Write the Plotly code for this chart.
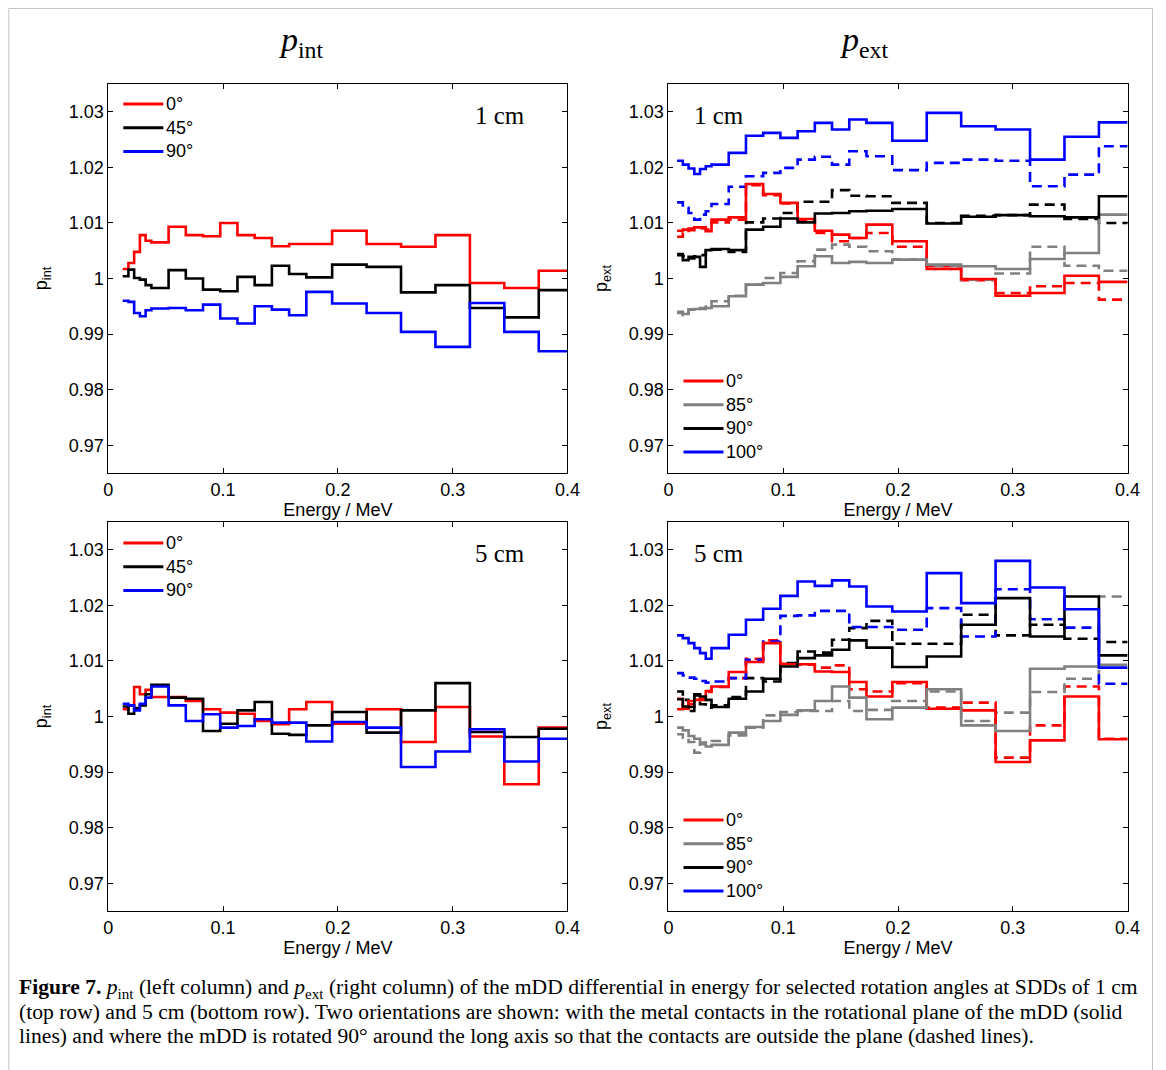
import plotly.graph_objects as go

# Energy bin edges (MeV); the p_int curves start one bin later than p_ext
EDGES_EXT = [0.0075, 0.0125, 0.0175, 0.0225, 0.0275, 0.0325, 0.0375, 0.0525, 0.0675,
             0.0825, 0.0975, 0.1125, 0.1275, 0.1425, 0.1575, 0.1725, 0.195, 0.225,
             0.255, 0.285, 0.315, 0.345, 0.375, 0.4]
EDGES_INT = EDGES_EXT[1:]

# p_int, SDD 1 cm
INT1_0 = [1.0017, 1.0028, 1.0048, 1.0078, 1.0068, 1.0065, 1.0093, 1.0078, 1.0076, 1.0100, 1.0078,
          1.0073, 1.0058, 1.0062, 1.0062, 1.0086, 1.0062, 1.0057, 1.0078, 0.9992, 0.9983, 1.0014]
INT1_45 = [1.0004, 1.0016, 1.0001, 0.9998, 0.9988, 0.9983, 1.0015, 1.0000, 0.9980, 0.9977, 1.0003,
           0.9988, 1.0023, 1.0008, 1.0002, 1.0025, 1.0021, 0.9975, 0.9988, 0.9947, 0.9930, 0.9979]
INT1_90 = [0.9960, 0.9958, 0.9938, 0.9932, 0.9943, 0.9946, 0.9947, 0.9943, 0.9953, 0.9928, 0.9919,
           0.9950, 0.9944, 0.9934, 0.9976, 0.9955, 0.9938, 0.9904, 0.9877, 0.9956, 0.9904, 0.9869]

# p_int, SDD 5 cm
INT5_0 = [1.0013, 1.0020, 1.0053, 1.0040, 1.0048, 1.0035, 1.0035, 1.0028, 1.0013, 1.0007, 1.0005,
          0.9992, 0.9986, 1.0013, 1.0026, 0.9987, 1.0013, 0.9954, 1.0017, 0.9964, 0.9878, 0.9980]
INT5_45 = [1.0018, 1.0005, 1.0015, 1.0020, 1.0040, 1.0057, 1.0034, 1.0032, 0.9974, 0.9987, 1.0011,
           1.0026, 0.9969, 0.9967, 0.9984, 1.0008, 0.9971, 1.0011, 1.0060, 0.9972, 0.9963, 0.9978]
INT5_90 = [1.0023, 1.0020, 1.0011, 1.0023, 1.0034, 1.0054, 1.0020, 0.9992, 1.0004, 0.9980, 0.9983,
           0.9995, 0.9989, 0.9989, 0.9955, 0.9990, 0.9980, 0.9909, 0.9937, 0.9977, 0.9919, 0.9960]

# p_ext, SDD 1 cm (solid: contacts in plane, dashed: rotated 90 deg about long axis)
EXT1_0 = [1.0086, 1.0088, 1.0090, 1.0092, 1.0092, 1.0085, 1.0106, 1.0110, 1.0170, 1.0152, 1.0136, 1.0107,
          1.0086, 1.0079, 1.0073, 1.0097, 1.0067, 1.0017, 0.9999, 0.9969, 0.9974, 1.0005, 0.9994]
EXT1_0_D = [1.0075, 1.0082, 1.0087, 1.0090, 1.0090, 1.0088, 1.0101, 1.0106, 1.0168, 1.0150, 1.0135, 1.0106,
            1.0082, 1.0067, 1.0073, 1.0082, 1.0057, 1.0022, 0.9997, 0.9974, 0.9986, 0.9992, 0.9962]
EXT1_85 = [0.9938, 0.9936, 0.9944, 0.9945, 0.9947, 0.9947, 0.9950, 0.9968, 0.9989, 0.9992, 1.0003, 1.0022,
           1.0040, 1.0028, 1.0030, 1.0028, 1.0034, 1.0025, 1.0022, 1.0017, 1.0035, 1.0046, 1.0115]
EXT1_85_D = [0.9940, 0.9934, 0.9944, 0.9944, 0.9945, 0.9952, 0.9959, 0.9969, 0.9989, 1.0001, 1.0010, 1.0031,
             1.0052, 1.0061, 1.0057, 1.0049, 1.0034, 1.0022, 0.9998, 1.0009, 1.0057, 1.0023, 1.0014]
EXT1_90 = [1.0042, 1.0033, 1.0039, 1.0039, 1.0021, 1.0051, 1.0053, 1.0051, 1.0088, 1.0093, 1.0108, 1.0101,
           1.0117, 1.0118, 1.0121, 1.0122, 1.0125, 1.0099, 1.0111, 1.0114, 1.0112, 1.0110, 1.0148]
EXT1_90_D = [1.0044, 1.0040, 1.0036, 1.0040, 1.0042, 1.0050, 1.0052, 1.0048, 1.0101, 1.0108, 1.0118, 1.0138,
             1.0138, 1.0159, 1.0149, 1.0148, 1.0136, 1.0100, 1.0113, 1.0114, 1.0133, 1.0107, 1.0100]
EXT1_100 = [1.0212, 1.0205, 1.0198, 1.0188, 1.0197, 1.0202, 1.0205, 1.0226, 1.0257, 1.0262, 1.0253, 1.0265,
            1.0280, 1.0268, 1.0286, 1.0280, 1.0248, 1.0298, 1.0274, 1.0268, 1.0214, 1.0255, 1.0281]
EXT1_100_D = [1.0137, 1.0127, 1.0118, 1.0106, 1.0115, 1.0121, 1.0134, 1.0165, 1.0184, 1.0190, 1.0199, 1.0214,
              1.0219, 1.0205, 1.0229, 1.0220, 1.0195, 1.0208, 1.0214, 1.0212, 1.0166, 1.0187, 1.0238]

# p_ext, SDD 5 cm
EXT5_0 = [1.0032, 1.0014, 1.0028, 1.0030, 1.0032, 1.0046, 1.0054, 1.0080, 1.0098, 1.0132, 1.0094, 1.0094,
          1.0081, 1.0080, 1.0062, 1.0036, 1.0062, 1.0014, 1.0011, 0.9918, 0.9957, 1.0036, 0.9959]
EXT5_0_D = [1.0013, 1.0020, 1.0022, 1.0028, 1.0030, 1.0044, 1.0053, 1.0069, 1.0104, 1.0137, 1.0095, 1.0093,
            1.0088, 1.0092, 1.0049, 1.0045, 1.0060, 1.0016, 1.0025, 0.9926, 0.9984, 1.0054, 0.9960]
EXT5_85 = [0.9980, 0.9975, 0.9965, 0.9960, 0.9953, 0.9946, 0.9949, 0.9971, 0.9981, 0.9992, 1.0003, 1.0011,
           1.0028, 1.0054, 1.0034, 0.9995, 1.0016, 1.0049, 0.9984, 0.9974, 1.0086, 1.0090, 1.0093]
EXT5_85_D = [0.9968, 0.9962, 0.9954, 0.9935, 0.9950, 0.9955, 0.9956, 0.9966, 0.9980, 1.0002, 1.0008, 1.0010,
             1.0010, 1.0028, 1.0010, 1.0012, 1.0028, 1.0045, 0.9992, 1.0007, 1.0044, 1.0068, 1.0216]
EXT5_90 = [1.0031, 1.0018, 1.0017, 1.0040, 1.0036, 1.0030, 1.0017, 1.0032, 1.0045, 1.0068, 1.0090, 1.0105,
           1.0110, 1.0120, 1.0137, 1.0124, 1.0089, 1.0108, 1.0165, 1.0213, 1.0144, 1.0216, 1.0110]
EXT5_90_D = [1.0045, 1.0030, 1.0010, 1.0038, 1.0022, 1.0016, 1.0020, 1.0035, 1.0069, 1.0063, 1.0096, 1.0117,
             1.0115, 1.0138, 1.0159, 1.0172, 1.0131, 1.0131, 1.0183, 1.0146, 1.0165, 1.0140, 1.0134]
EXT5_100 = [1.0146, 1.0141, 1.0132, 1.0123, 1.0114, 1.0104, 1.0123, 1.0147, 1.0174, 1.0194, 1.0217, 1.0243,
            1.0235, 1.0245, 1.0234, 1.0198, 1.0189, 1.0258, 1.0204, 1.0280, 1.0232, 1.0193, 1.0088]
EXT5_100_D = [1.0078, 1.0074, 1.0070, 1.0068, 1.0064, 1.0061, 1.0063, 1.0069, 1.0102, 1.0135, 1.0181, 1.0182,
              1.0190, 1.0190, 1.0161, 1.0161, 1.0156, 1.0195, 1.0144, 1.0229, 1.0175, 1.0160, 1.0059]

X_TICKS = [0, 0.1, 0.2, 0.3, 0.4]
X_TICKTEXT = ["0", "0.1", "0.2", "0.3", "0.4"]
Y_TICKS = [0.97, 0.98, 0.99, 1.0, 1.01, 1.02, 1.03]
Y_TICKTEXT = ["0.97", "0.98", "0.99", "1", "1.01", "1.02", "1.03"]

RED, BLACK, BLUE, GRAY = "#ff0000", "#000000", "#0000ff", "#808080"
INT_LEGEND = [("0°", RED), ("45°", BLACK), ("90°", BLUE)]
EXT_LEGEND = [("0°", RED), ("85°", GRAY), ("90°", BLACK), ("100°", BLUE)]

W, H = 1166, 1070
SANS = "Liberation Sans, Arial, sans-serif"
SERIF = "Liberation Serif, Times New Roman, serif"
DASH = "10px,6px"
LW = 2.6

# horizontal page grid: grid position -> paper fraction
GRID_X0, GRID_XS = 4.7, 0.9843


def fx(p):
    return min(max((p - GRID_X0) / GRID_XS / W, 0.0), 1.0)


def fy(p):
    return 1 - p / H


fig = go.Figure()

# panel id -> (xaxis, yaxis, grid box [left, right, top, bottom])
PANELS = {
    "int1": ("x", "y", (108, 567, 84, 473)),
    "ext1": ("x2", "y2", (668, 1127, 84, 473)),
    "int5": ("x3", "y3", (108, 567, 522, 911)),
    "ext5": ("x4", "y4", (668, 1127, 522, 911)),
}


def add_step(panel, edges, vals, color, name, dashed=False):
    xa, ya, _ = PANELS[panel]
    fig.add_trace(go.Scatter(
        x=edges, y=list(vals) + [vals[-1]], mode="lines",
        line=dict(shape="hv", color=color, width=LW, dash=DASH if dashed else "solid"),
        xaxis=xa, yaxis=ya, name=name, showlegend=False, hoverinfo="skip",
    ))


# p_int panels
for panel, series in (("int1", (INT1_0, INT1_45, INT1_90)), ("int5", (INT5_0, INT5_45, INT5_90))):
    for vals, (nm, col) in zip(series, INT_LEGEND):
        add_step(panel, EDGES_INT, vals, col, nm)

# p_ext panels: dashed first, solid on top
ext_sets = {
    "ext1": ((EXT1_0, EXT1_0_D), (EXT1_85, EXT1_85_D), (EXT1_90, EXT1_90_D), (EXT1_100, EXT1_100_D)),
    "ext5": ((EXT5_0, EXT5_0_D), (EXT5_85, EXT5_85_D), (EXT5_90, EXT5_90_D), (EXT5_100, EXT5_100_D)),
}
for panel, sets in ext_sets.items():
    for (solid, dashed), (nm, col) in zip(sets, EXT_LEGEND):
        add_step(panel, EDGES_EXT, dashed, col, nm + " (rotated)", dashed=True)
    for (solid, dashed), (nm, col) in zip(sets, EXT_LEGEND):
        add_step(panel, EDGES_EXT, solid, col, nm)

axis_common = dict(
    showline=True, linecolor="black", linewidth=1, mirror="ticks",
    ticks="inside", ticklen=5, tickwidth=1, tickcolor="black",
    showgrid=False, zeroline=False,
    tickfont=dict(family=SANS, size=18, color="black"),
)

layout = dict(
    width=W, height=H, autosize=False,
    margin=dict(l=0, r=0, t=0, b=0),
    paper_bgcolor="white", plot_bgcolor="white",
    font=dict(family=SANS, size=18, color="black"),
    showlegend=False,
)

ylabels = {"int1": "p<sub>int</sub>", "int5": "p<sub>int</sub>",
           "ext1": "p<sub>ext</sub>", "ext5": "p<sub>ext</sub>"}

for panel, (xa, ya, (l, r, t, b)) in PANELS.items():
    layout["xaxis" + xa[1:]] = dict(
        axis_common, domain=[fx(l), fx(r)], range=[0, 0.4], anchor=ya,
        tickvals=X_TICKS, ticktext=X_TICKTEXT,
        title=dict(text="Energy / MeV", standoff=4, font=dict(family=SANS, size=18)),
    )
    layout["yaxis" + ya[1:]] = dict(
        axis_common, domain=[fy(b), fy(t)], range=[0.965, 1.035], anchor=xa,
        tickvals=Y_TICKS, ticktext=Y_TICKTEXT,
        title=dict(text=ylabels[panel], standoff=16, font=dict(family=SANS, size=18)),
    )

fig.update_layout(**layout)

# legend keys: a short line and a label per series, stacked from a top offset in the panel
legend_spec = {"int1": (INT_LEGEND, 20), "int5": (INT_LEGEND, 21),
               "ext1": (EXT_LEGEND, 297), "ext5": (EXT_LEGEND, 298)}
for panel, (entries, top_off) in legend_spec.items():
    xa, ya, (l, r, t, b) = PANELS[panel]
    for i, (label, col) in enumerate(entries):
        cy = t + top_off + 23.7 * i
        fig.add_shape(type="line", xref="paper", yref="paper",
                      x0=fx(l + 15), x1=fx(l + 55), y0=fy(cy), y1=fy(cy),
                      line=dict(color=col, width=3))
        fig.add_annotation(xref="paper", yref="paper", x=fx(l + 56), y=fy(cy),
                           text=label, showarrow=False, xanchor="left", yanchor="middle",
                           font=dict(family=SANS, size=18, color="black"))

# SDD labels inside the panels
sdd = [(500, 116, "1 cm"), (719, 116, "1 cm"), (500, 553, "5 cm"), (719, 553, "5 cm")]
for cx, cy, txt in sdd:
    fig.add_annotation(
        xref="paper", yref="paper", x=fx(cx), y=fy(cy),
        text=txt, showarrow=False, xanchor="center", yanchor="middle",
        font=dict(family=SERIF, size=25, color="black"),
    )

# column headings
for cx, sub in ((301, "int"), (863, "ext")):
    fig.add_annotation(
        xref="paper", yref="paper", x=fx(cx), y=fy(42),
        text=f"<i>p</i><sub>{sub}</sub>", showarrow=False,
        xanchor="center", yanchor="middle",
        font=dict(family=SERIF, size=34, color="black"),
    )

# caption
caption = [
    "<b>Figure 7.</b> <i>p</i><sub>int</sub> (left column) and <i>p</i><sub>ext</sub> (right column) "
    "of the mDD differential in energy for selected rotation angles at SDDs of 1 cm",
    "(top row) and 5 cm (bottom row). Two orientations are shown: with the metal contacts in the "
    "rotational plane of the mDD (solid",
    "lines) and where the mDD is rotated 90° around the long axis so that the contacts are outside "
    "the plane (dashed lines).",
]
for i, line in enumerate(caption):
    fig.add_annotation(
        xref="paper", yref="paper", x=fx(17), y=fy(988 + 24 * i),
        text=line, showarrow=False, xanchor="left", yanchor="middle", align="left",
        font=dict(family=SERIF, size=21.6, color="black"),
    )

# light frame around the figure (open at the bottom edge of the page)
xl, xr = fx(8.5), min(fx(1159.5), 1165.5 / W)
fig.add_shape(type="path", xref="paper", yref="paper",
              path=f"M {xl},0 L {xl},{fy(8.5)} L {xr},{fy(8.5)} L {xr},0",
              line=dict(color="#c4c4c4", width=1), layer="below")

fig.write_html("out.html")
